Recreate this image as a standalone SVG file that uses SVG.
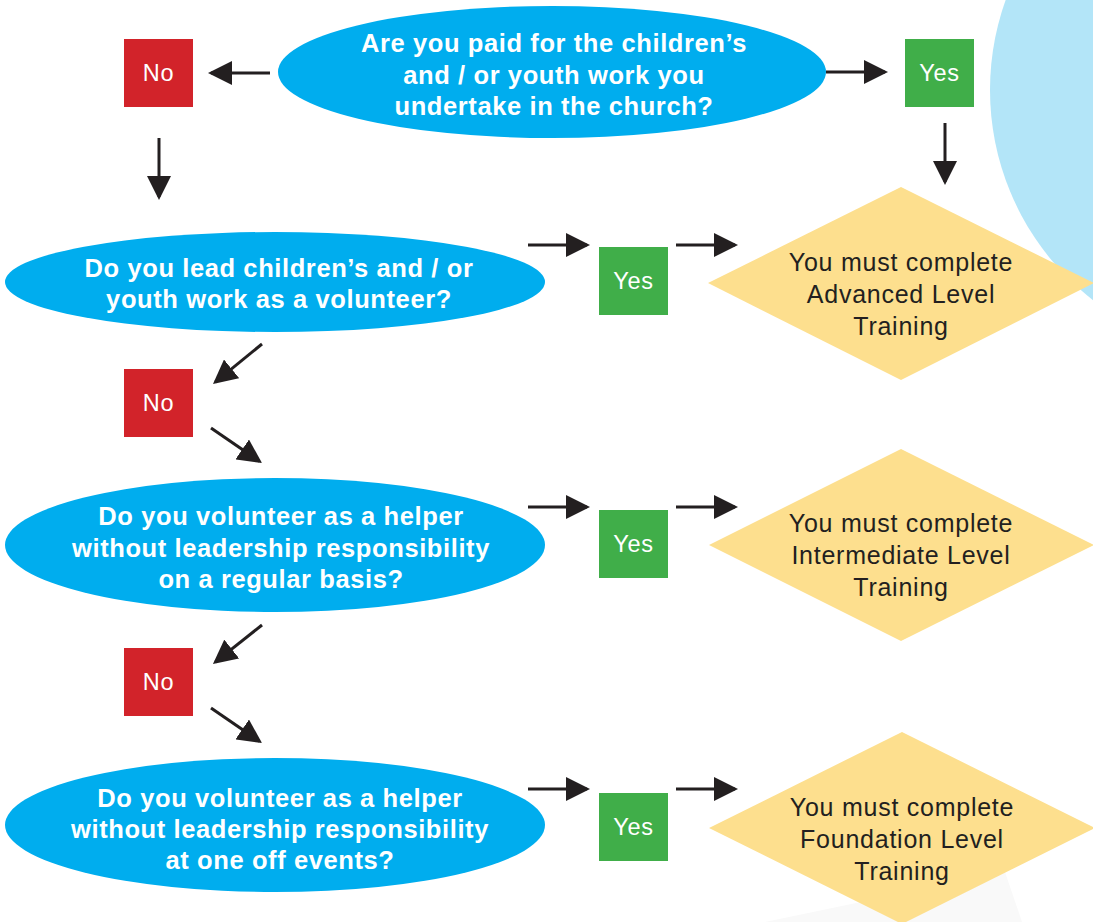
<svg xmlns="http://www.w3.org/2000/svg" width="1093" height="922" viewBox="0 0 1093 922">
<defs>
<marker id="ah" viewBox="0 0 24 24" refX="21" refY="12" markerWidth="24" markerHeight="24" markerUnits="userSpaceOnUse" orient="auto">
<path d="M0,0 L24,12 L0,24 Z" fill="#231f20"/>
</marker>
<style>
.q{fill:#00adee}
.qt{font-family:"Liberation Sans",Arial,sans-serif;font-weight:bold;font-size:25.5px;letter-spacing:0.6px;fill:#ffffff;text-anchor:middle}
.no{fill:#d2232a}
.yes{fill:#40ae49}
.bt{font-family:"Liberation Sans",Arial,sans-serif;font-size:23.5px;letter-spacing:0.7px;fill:#ffffff;text-anchor:middle}
.d{fill:#fddf8e}
.dt{font-family:"Liberation Sans",Arial,sans-serif;font-size:25px;letter-spacing:0.75px;fill:#231f20;text-anchor:middle}
.c line{stroke:#231f20;stroke-width:3;marker-end:url(#ah)}
</style>
</defs>
<rect width="1093" height="922" fill="#ffffff"/>
<circle cx="1256" cy="90" r="266" fill="#b3e5f8"/>
<polygon points="765,922 1005,872 1022,922" fill="#f9f9f9"/>

<g id="q1"><ellipse class="q" cx="552" cy="72" rx="274" ry="66"/>
<text class="qt" x="554" y="52">Are you paid for the children’s</text>
<text class="qt" x="554" y="84">and / or youth work you</text>
<text class="qt" x="554" y="115">undertake in the church?</text></g>

<g id="no1"><rect class="no" x="124" y="39" width="69" height="68"/><text class="bt" x="158.5" y="81">No</text></g>
<g id="yes1"><rect class="yes" x="905" y="39" width="69" height="68"/><text class="bt" x="939.5" y="81">Yes</text></g>

<g id="q2"><ellipse class="q" cx="275" cy="282" rx="270" ry="50"/>
<text class="qt" x="279" y="277">Do you lead children’s and / or</text>
<text class="qt" x="279" y="308">youth work as a volunteer?</text></g>

<g id="yes2"><rect class="yes" x="599" y="247" width="69" height="68"/><text class="bt" x="633.5" y="289">Yes</text></g>
<g id="no2"><rect class="no" x="124" y="369" width="69" height="68"/><text class="bt" x="158.5" y="411">No</text></g>

<g id="d1"><polygon class="d" points="901,187 1094,283 901,380 708,283"/>
<text class="dt" x="901" y="271">You must complete</text>
<text class="dt" x="901" y="303">Advanced Level</text>
<text class="dt" x="901" y="335">Training</text></g>

<g id="q3"><ellipse class="q" cx="275" cy="545" rx="270" ry="67"/>
<text class="qt" x="281" y="525">Do you volunteer as a helper</text>
<text class="qt" x="281" y="557">without leadership responsibility</text>
<text class="qt" x="281" y="588">on a regular basis?</text></g>

<g id="yes3"><rect class="yes" x="599" y="510" width="69" height="68"/><text class="bt" x="633.5" y="552">Yes</text></g>
<g id="no3"><rect class="no" x="124" y="648" width="69" height="68"/><text class="bt" x="158.5" y="690">No</text></g>

<g id="d2"><polygon class="d" points="901,449 1094,545 901,641 709,545"/>
<text class="dt" x="901" y="532">You must complete</text>
<text class="dt" x="901" y="564">Intermediate Level</text>
<text class="dt" x="901" y="596">Training</text></g>

<g id="q4"><ellipse class="q" cx="275" cy="825" rx="270" ry="67"/>
<text class="qt" x="280" y="807">Do you volunteer as a helper</text>
<text class="qt" x="280" y="838">without leadership responsibility</text>
<text class="qt" x="280" y="869">at one off events?</text></g>

<g id="yes4"><rect class="yes" x="599" y="793" width="69" height="68"/><text class="bt" x="633.5" y="835">Yes</text></g>

<g id="d3"><polygon class="d" points="902,732 1095,828 902,924 709,828"/>
<text class="dt" x="902" y="816">You must complete</text>
<text class="dt" x="902" y="848">Foundation Level</text>
<text class="dt" x="902" y="880">Training</text></g>

<g id="connectors" class="c">
<line x1="270" y1="73" x2="211" y2="73"/>
<line x1="826" y1="72" x2="885" y2="72"/>
<line x1="159" y1="138" x2="159" y2="197"/>
<line x1="945" y1="123" x2="945" y2="182"/>
<line x1="528" y1="245" x2="587" y2="245"/>
<line x1="676" y1="245" x2="735" y2="245"/>
<line x1="262" y1="344" x2="215.3" y2="382.1"/>
<line x1="211" y1="428" x2="259.5" y2="461.3"/>
<line x1="528" y1="507" x2="587" y2="507"/>
<line x1="676" y1="507" x2="735" y2="507"/>
<line x1="262" y1="625" x2="215.3" y2="662.1"/>
<line x1="211" y1="708" x2="259.5" y2="741.3"/>
<line x1="528" y1="789" x2="587" y2="789"/>
<line x1="676" y1="789" x2="735" y2="789"/>
</g>
</svg>
